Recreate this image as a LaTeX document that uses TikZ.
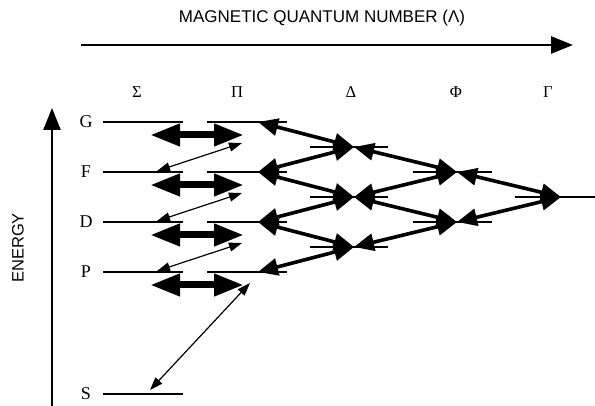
\documentclass[tikz,border=0pt]{standalone}
\usepackage{fontspec}
\setmainfont{Liberation Serif}
\newfontfamily\helv{Liberation Sans}
\usetikzlibrary{arrows.meta}

\tikzset{
  lev/.style={line width=2pt},
  axis/.style={line width=2.6pt,-{Triangle[length=22pt,width=17pt]}},
  sigpi/.style={line width=7pt,{Triangle[length=30pt,width=21pt]}-{Triangle[length=30pt,width=21pt]}},
  thinarr/.style={line width=1.2pt,{Triangle[length=13pt,width=9pt]}-{Triangle[length=13pt,width=9pt]}},
  netarr/.style={line width=3.6pt,{Triangle[length=20pt,width=17pt]}-{Triangle[length=20pt,width=17pt]}},
  caps/.style={font=\helv\fontsize{17}{20}\selectfont},
  greek/.style={font=\fontsize{16.5}{19}\selectfont},
  lbl/.style={font=\fontsize{18}{21}\selectfont}
}

\begin{document}
\begin{tikzpicture}[x=1pt,y=1pt]
\useasboundingbox (0,0) rectangle (595,406);

% axes
\node[caps] (title) at (322,388) {MAGNETIC QUANTUM NUMBER (Λ)};
\coordinate (lamL) at (81,361);
\coordinate (lamR) at (573,361);
\draw[axis] (lamL) -- (lamR);
\coordinate (enB) at (52,0);
\coordinate (enT) at (52,298);
\draw[axis] (enB) -- (enT);
\node[caps,font=\helv\fontsize{16.5}{19}\selectfont,rotate=90] (energy) at (18,158) {ENERGY};

% Lambda labels
\node[greek] (Sig) at (137,314) {Σ};
\node[greek] (Pi) at (237,314) {Π};
\node[greek] (Del) at (351,314) {Δ};
\node[greek] (Phi) at (456,314) {Φ};
\node[greek] (Gam) at (548,314) {Γ};

% Sigma and Pi levels
\foreach \n/\y in {G/284,F/234,D/184,P/134} {
  \node[lbl] (l\n) at (86,\y) {\n};
  \draw[lev] (103,\y) -- (183,\y);
  \draw[lev] (207,\y) -- (287,\y);
  \coordinate (hL\n) at (150,\y-13);
  \coordinate (hR\n) at (244,\y-13);
  \coordinate (s\n) at (157,\y+1);
  \coordinate (p\n) at (258,\y);
  \coordinate (u\n) at (242,\y+29);
}
\node[lbl] (lS) at (86,12) {S};
\draw[lev] (103,12) -- (183,12);
\coordinate (sS) at (150,16);
\coordinate (uS) at (250,123);

% Delta, Phi, Gamma levels
\foreach \k/\y in {1/259,2/209,3/159} {
  \draw[lev] (310,\y) -- (388,\y);
  \coordinate (d\k) at (354,\y);
}
\foreach \k/\y in {1/234,2/184} {
  \draw[lev] (413,\y) -- (492,\y);
  \coordinate (f\k) at (457,\y);
}
\draw[lev] (515,209) -- (595,209);
\coordinate (g) at (561,209);

% Sigma-Pi couplings
\foreach \n in {G,F,D,P}
  \draw[sigpi] (hL\n) -- (hR\n);
\draw[thinarr] (sF) -- (uF);
\draw[thinarr] (sD) -- (uD);
\draw[thinarr] (sP) -- (uP);
\draw[thinarr] (sS) -- (uS);

% couplings between higher Lambda
\draw[netarr] (pG) -- (d1);
\draw[netarr] (pF) -- (d1);
\draw[netarr] (pF) -- (d2);
\draw[netarr] (pD) -- (d2);
\draw[netarr] (pD) -- (d3);
\draw[netarr] (pP) -- (d3);
\draw[netarr] (f1) -- (d1);
\draw[netarr] (f1) -- (d2);
\draw[netarr] (f2) -- (d2);
\draw[netarr] (f2) -- (d3);
\draw[netarr] (g) -- (f1);
\draw[netarr] (g) -- (f2);
\end{tikzpicture}
\end{document}
